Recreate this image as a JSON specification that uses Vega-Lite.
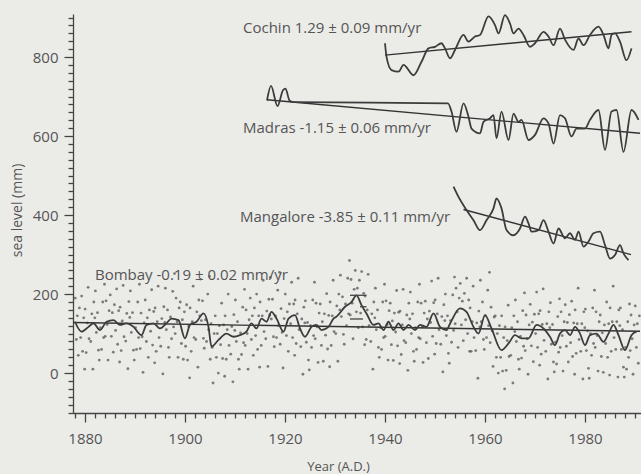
{
"$schema":"https://vega.github.io/schema/vega-lite/v6.json",
"width":568,"height":399,
"autosize":"none",
"padding":{"left":73,"top":14,"right":0,"bottom":61},
"background":"#ebebe8",
"config":{"view":{"stroke":null},"font":"Open Sans"},
"datasets":{
"dots":[
{"x":1878.05,"y":190},{"x":1878.28,"y":85},{"x":1878.47,"y":145},{"x":1878.66,"y":45},{"x":1878.88,"y":165},
{"x":1879.12,"y":90},{"x":1879.33,"y":195},{"x":1879.52,"y":55},{"x":1879.74,"y":140},{"x":1879.93,"y":10},
{"x":1880.02,"y":162},{"x":1880.24,"y":52},{"x":1880.45,"y":127},{"x":1880.63,"y":217},{"x":1880.81,"y":87},
{"x":1881.15,"y":80},{"x":1881.36,"y":150},{"x":1881.58,"y":10},{"x":1881.77,"y":180},{"x":1881.96,"y":140},
{"x":1882.08,"y":208},{"x":1882.27,"y":103},{"x":1882.5,"y":153},{"x":1882.69,"y":58},{"x":1882.85,"y":33},
{"x":1883.1,"y":115},{"x":1883.31,"y":60},{"x":1883.55,"y":180},{"x":1883.72,"y":90},{"x":1883.9,"y":225},
{"x":1884.04,"y":93},{"x":1884.21,"y":183},{"x":1884.43,"y":123},{"x":1884.61,"y":33},{"x":1884.83,"y":158},
{"x":1885.05,"y":198},{"x":1885.28,"y":93},{"x":1885.47,"y":153},{"x":1885.66,"y":53},{"x":1885.88,"y":173},
{"x":1886.12,"y":108},{"x":1886.33,"y":213},{"x":1886.52,"y":73},{"x":1886.74,"y":158},{"x":1886.93,"y":28},
{"x":1887.02,"y":167},{"x":1887.24,"y":57},{"x":1887.45,"y":132},{"x":1887.63,"y":222},{"x":1887.81,"y":92},
{"x":1888.15,"y":81},{"x":1888.36,"y":151},{"x":1888.58,"y":11},{"x":1888.77,"y":181},{"x":1888.96,"y":141},
{"x":1889.08,"y":208},{"x":1889.27,"y":103},{"x":1889.5,"y":153},{"x":1889.69,"y":58},{"x":1889.85,"y":33},
{"x":1890.1,"y":115},{"x":1890.31,"y":60},{"x":1890.55,"y":180},{"x":1890.72,"y":90},{"x":1890.9,"y":225},
{"x":1891.04,"y":62},{"x":1891.21,"y":152},{"x":1891.43,"y":92},{"x":1891.61,"y":2},{"x":1891.83,"y":127},
{"x":1892.05,"y":185},{"x":1892.28,"y":80},{"x":1892.47,"y":140},{"x":1892.66,"y":40},{"x":1892.88,"y":160},
{"x":1893.12,"y":106},{"x":1893.33,"y":211},{"x":1893.52,"y":71},{"x":1893.74,"y":156},{"x":1893.93,"y":26},
{"x":1894.02,"y":165},{"x":1894.24,"y":55},{"x":1894.45,"y":130},{"x":1894.63,"y":220},{"x":1894.81,"y":90},
{"x":1895.15,"y":68},{"x":1895.36,"y":138},{"x":1895.58,"y":-2},{"x":1895.77,"y":168},{"x":1895.96,"y":128},
{"x":1896.08,"y":215},{"x":1896.27,"y":110},{"x":1896.5,"y":160},{"x":1896.69,"y":65},{"x":1896.85,"y":40},
{"x":1897.1,"y":142},{"x":1897.31,"y":87},{"x":1897.55,"y":207},{"x":1897.72,"y":117},{"x":1897.9,"y":252},
{"x":1898.04,"y":100},{"x":1898.21,"y":190},{"x":1898.43,"y":130},{"x":1898.61,"y":40},{"x":1898.83,"y":165},
{"x":1899.05,"y":180},{"x":1899.28,"y":75},{"x":1899.47,"y":135},{"x":1899.66,"y":35},{"x":1899.88,"y":155},
{"x":1900.12,"y":68},{"x":1900.33,"y":173},{"x":1900.52,"y":33},{"x":1900.74,"y":118},{"x":1900.93,"y":-12},
{"x":1901.02,"y":165},{"x":1901.24,"y":55},{"x":1901.45,"y":130},{"x":1901.63,"y":220},{"x":1901.81,"y":90},
{"x":1902.15,"y":85},{"x":1902.36,"y":155},{"x":1902.58,"y":15},{"x":1902.77,"y":185},{"x":1902.96,"y":145},
{"x":1903.08,"y":238},{"x":1903.27,"y":133},{"x":1903.5,"y":183},{"x":1903.69,"y":88},{"x":1903.85,"y":63},
{"x":1904.1,"y":135},{"x":1904.31,"y":80},{"x":1904.55,"y":200},{"x":1904.72,"y":110},{"x":1904.9,"y":245},
{"x":1905.04,"y":35},{"x":1905.21,"y":125},{"x":1905.43,"y":65},{"x":1905.61,"y":-25},{"x":1905.83,"y":100},
{"x":1906.05,"y":145},{"x":1906.28,"y":40},{"x":1906.47,"y":100},{"x":1906.66,"y":0},{"x":1906.88,"y":120},
{"x":1907.12,"y":72},{"x":1907.33,"y":177},{"x":1907.52,"y":37},{"x":1907.74,"y":122},{"x":1907.93,"y":-8},
{"x":1908.02,"y":145},{"x":1908.24,"y":35},{"x":1908.45,"y":110},{"x":1908.63,"y":200},{"x":1908.81,"y":70},
{"x":1909.15,"y":48},{"x":1909.36,"y":118},{"x":1909.58,"y":-22},{"x":1909.77,"y":148},{"x":1909.96,"y":108},
{"x":1910.08,"y":185},{"x":1910.27,"y":80},{"x":1910.5,"y":130},{"x":1910.69,"y":35},{"x":1910.85,"y":10},
{"x":1911.1,"y":102},{"x":1911.31,"y":47},{"x":1911.55,"y":167},{"x":1911.72,"y":77},{"x":1911.9,"y":212},
{"x":1912.04,"y":70},{"x":1912.21,"y":160},{"x":1912.43,"y":100},{"x":1912.61,"y":10},{"x":1912.83,"y":135},
{"x":1913.05,"y":190},{"x":1913.28,"y":85},{"x":1913.47,"y":145},{"x":1913.66,"y":45},{"x":1913.88,"y":165},
{"x":1914.12,"y":95},{"x":1914.33,"y":200},{"x":1914.52,"y":60},{"x":1914.74,"y":145},{"x":1914.93,"y":15},
{"x":1915.02,"y":180},{"x":1915.24,"y":70},{"x":1915.45,"y":145},{"x":1915.63,"y":235},{"x":1915.81,"y":105},
{"x":1916.15,"y":87},{"x":1916.36,"y":157},{"x":1916.58,"y":17},{"x":1916.77,"y":187},{"x":1916.96,"y":147},
{"x":1917.08,"y":242},{"x":1917.27,"y":137},{"x":1917.5,"y":187},{"x":1917.69,"y":92},{"x":1917.85,"y":67},
{"x":1918.1,"y":145},{"x":1918.31,"y":90},{"x":1918.55,"y":210},{"x":1918.72,"y":120},{"x":1918.9,"y":255},
{"x":1919.04,"y":73},{"x":1919.21,"y":163},{"x":1919.43,"y":103},{"x":1919.61,"y":13},{"x":1919.83,"y":138},
{"x":1920.05,"y":200},{"x":1920.28,"y":95},{"x":1920.47,"y":155},{"x":1920.66,"y":55},{"x":1920.88,"y":175},
{"x":1921.12,"y":125},{"x":1921.33,"y":230},{"x":1921.52,"y":90},{"x":1921.74,"y":175},{"x":1921.93,"y":45},
{"x":1922.02,"y":185},{"x":1922.24,"y":75},{"x":1922.45,"y":150},{"x":1922.63,"y":240},{"x":1922.81,"y":110},
{"x":1923.15,"y":67},{"x":1923.36,"y":137},{"x":1923.58,"y":-3},{"x":1923.77,"y":167},{"x":1923.96,"y":127},
{"x":1924.08,"y":183},{"x":1924.27,"y":78},{"x":1924.5,"y":128},{"x":1924.69,"y":33},{"x":1924.85,"y":8},
{"x":1925.1,"y":120},{"x":1925.31,"y":65},{"x":1925.55,"y":185},{"x":1925.72,"y":95},{"x":1925.9,"y":230},
{"x":1926.04,"y":87},{"x":1926.21,"y":177},{"x":1926.43,"y":117},{"x":1926.61,"y":27},{"x":1926.83,"y":152},
{"x":1927.05,"y":175},{"x":1927.28,"y":70},{"x":1927.47,"y":130},{"x":1927.66,"y":30},{"x":1927.88,"y":150},
{"x":1928.12,"y":96},{"x":1928.33,"y":201},{"x":1928.52,"y":61},{"x":1928.74,"y":146},{"x":1928.93,"y":16},
{"x":1929.02,"y":180},{"x":1929.24,"y":70},{"x":1929.45,"y":145},{"x":1929.63,"y":235},{"x":1929.81,"y":105},
{"x":1930.15,"y":100},{"x":1930.36,"y":170},{"x":1930.58,"y":30},{"x":1930.77,"y":200},{"x":1930.96,"y":160},
{"x":1931.08,"y":248},{"x":1931.27,"y":143},{"x":1931.5,"y":193},{"x":1931.69,"y":98},{"x":1931.85,"y":73},
{"x":1932.1,"y":175},{"x":1932.31,"y":120},{"x":1932.55,"y":240},{"x":1932.72,"y":150},{"x":1932.9,"y":285},
{"x":1933.04,"y":147},{"x":1933.21,"y":237},{"x":1933.43,"y":177},{"x":1933.61,"y":87},{"x":1933.83,"y":212},
{"x":1934.05,"y":260},{"x":1934.28,"y":155},{"x":1934.47,"y":215},{"x":1934.66,"y":115},{"x":1934.88,"y":235},
{"x":1935.12,"y":152},{"x":1935.33,"y":257},{"x":1935.52,"y":117},{"x":1935.74,"y":202},{"x":1935.93,"y":72},
{"x":1936.02,"y":195},{"x":1936.24,"y":85},{"x":1936.45,"y":160},{"x":1936.63,"y":250},{"x":1936.81,"y":120},
{"x":1937.15,"y":80},{"x":1937.36,"y":150},{"x":1937.58,"y":10},{"x":1937.77,"y":180},{"x":1937.96,"y":140},
{"x":1938.08,"y":215},{"x":1938.27,"y":110},{"x":1938.5,"y":160},{"x":1938.69,"y":65},{"x":1938.85,"y":40},
{"x":1939.1,"y":115},{"x":1939.31,"y":60},{"x":1939.55,"y":180},{"x":1939.72,"y":90},{"x":1939.9,"y":225},
{"x":1940.04,"y":93},{"x":1940.21,"y":183},{"x":1940.43,"y":123},{"x":1940.61,"y":33},{"x":1940.83,"y":158},
{"x":1941.05,"y":177},{"x":1941.28,"y":72},{"x":1941.47,"y":132},{"x":1941.66,"y":32},{"x":1941.88,"y":152},
{"x":1942.12,"y":104},{"x":1942.33,"y":209},{"x":1942.52,"y":69},{"x":1942.74,"y":154},{"x":1942.93,"y":24},
{"x":1943.02,"y":157},{"x":1943.24,"y":47},{"x":1943.45,"y":122},{"x":1943.63,"y":212},{"x":1943.81,"y":82},
{"x":1944.15,"y":77},{"x":1944.36,"y":147},{"x":1944.58,"y":7},{"x":1944.77,"y":177},{"x":1944.96,"y":137},
{"x":1945.08,"y":205},{"x":1945.27,"y":100},{"x":1945.5,"y":150},{"x":1945.69,"y":55},{"x":1945.85,"y":30},
{"x":1946.1,"y":115},{"x":1946.31,"y":60},{"x":1946.55,"y":180},{"x":1946.72,"y":90},{"x":1946.9,"y":225},
{"x":1947.04,"y":87},{"x":1947.21,"y":177},{"x":1947.43,"y":117},{"x":1947.61,"y":27},{"x":1947.83,"y":152},
{"x":1948.05,"y":182},{"x":1948.28,"y":77},{"x":1948.47,"y":137},{"x":1948.66,"y":37},{"x":1948.88,"y":157},
{"x":1949.12,"y":128},{"x":1949.33,"y":233},{"x":1949.52,"y":93},{"x":1949.74,"y":178},{"x":1949.93,"y":48},
{"x":1950.02,"y":185},{"x":1950.24,"y":75},{"x":1950.45,"y":150},{"x":1950.63,"y":240},{"x":1950.81,"y":110},
{"x":1951.15,"y":73},{"x":1951.36,"y":143},{"x":1951.58,"y":3},{"x":1951.77,"y":173},{"x":1951.96,"y":133},
{"x":1952.08,"y":200},{"x":1952.27,"y":95},{"x":1952.5,"y":145},{"x":1952.69,"y":50},{"x":1952.85,"y":25},
{"x":1953.1,"y":133},{"x":1953.31,"y":78},{"x":1953.55,"y":198},{"x":1953.72,"y":108},{"x":1953.9,"y":243},
{"x":1954.04,"y":125},{"x":1954.21,"y":215},{"x":1954.43,"y":155},{"x":1954.61,"y":65},{"x":1954.83,"y":190},
{"x":1955.05,"y":227},{"x":1955.28,"y":122},{"x":1955.47,"y":182},{"x":1955.66,"y":82},{"x":1955.88,"y":202},
{"x":1956.12,"y":135},{"x":1956.33,"y":240},{"x":1956.52,"y":100},{"x":1956.74,"y":185},{"x":1956.93,"y":55},
{"x":1957.02,"y":165},{"x":1957.24,"y":55},{"x":1957.45,"y":130},{"x":1957.63,"y":220},{"x":1957.81,"y":90},
{"x":1958.15,"y":57},{"x":1958.36,"y":127},{"x":1958.58,"y":-13},{"x":1958.77,"y":157},{"x":1958.96,"y":117},
{"x":1959.08,"y":235},{"x":1959.27,"y":130},{"x":1959.5,"y":180},{"x":1959.69,"y":85},{"x":1959.85,"y":60},
{"x":1960.1,"y":145},{"x":1960.31,"y":90},{"x":1960.55,"y":210},{"x":1960.72,"y":120},{"x":1960.9,"y":255},
{"x":1961.04,"y":77},{"x":1961.21,"y":167},{"x":1961.43,"y":107},{"x":1961.61,"y":17},{"x":1961.83,"y":142},
{"x":1962.05,"y":145},{"x":1962.28,"y":40},{"x":1962.47,"y":100},{"x":1962.66,"y":0},{"x":1962.88,"y":120},
{"x":1963.12,"y":40},{"x":1963.33,"y":145},{"x":1963.52,"y":5},{"x":1963.74,"y":90},{"x":1963.93,"y":-40},
{"x":1964.02,"y":117},{"x":1964.24,"y":7},{"x":1964.45,"y":82},{"x":1964.63,"y":172},{"x":1964.81,"y":42},
{"x":1965.15,"y":45},{"x":1965.36,"y":115},{"x":1965.58,"y":-25},{"x":1965.77,"y":145},{"x":1965.96,"y":105},
{"x":1966.08,"y":185},{"x":1966.27,"y":80},{"x":1966.5,"y":130},{"x":1966.69,"y":35},{"x":1966.85,"y":10},
{"x":1967.1,"y":93},{"x":1967.31,"y":38},{"x":1967.55,"y":158},{"x":1967.72,"y":68},{"x":1967.9,"y":203},
{"x":1968.04,"y":57},{"x":1968.21,"y":147},{"x":1968.43,"y":87},{"x":1968.61,"y":-3},{"x":1968.83,"y":122},
{"x":1969.05,"y":174},{"x":1969.28,"y":69},{"x":1969.47,"y":129},{"x":1969.66,"y":29},{"x":1969.88,"y":149},
{"x":1970.12,"y":100},{"x":1970.33,"y":205},{"x":1970.52,"y":65},{"x":1970.74,"y":150},{"x":1970.93,"y":20},
{"x":1971.02,"y":158},{"x":1971.24,"y":48},{"x":1971.45,"y":123},{"x":1971.63,"y":213},{"x":1971.81,"y":83},
{"x":1972.15,"y":55},{"x":1972.36,"y":125},{"x":1972.58,"y":-15},{"x":1972.77,"y":155},{"x":1972.96,"y":115},
{"x":1973.08,"y":178},{"x":1973.27,"y":73},{"x":1973.5,"y":123},{"x":1973.69,"y":28},{"x":1973.85,"y":3},
{"x":1974.1,"y":78},{"x":1974.31,"y":23},{"x":1974.55,"y":143},{"x":1974.72,"y":53},{"x":1974.9,"y":188},
{"x":1975.04,"y":65},{"x":1975.21,"y":155},{"x":1975.43,"y":95},{"x":1975.61,"y":5},{"x":1975.83,"y":130},
{"x":1976.05,"y":173},{"x":1976.28,"y":68},{"x":1976.47,"y":128},{"x":1976.66,"y":28},{"x":1976.88,"y":148},
{"x":1977.12,"y":77},{"x":1977.33,"y":182},{"x":1977.52,"y":42},{"x":1977.74,"y":127},{"x":1977.93,"y":-3},
{"x":1978.02,"y":160},{"x":1978.24,"y":50},{"x":1978.45,"y":125},{"x":1978.63,"y":215},{"x":1978.81,"y":85},
{"x":1979.15,"y":55},{"x":1979.36,"y":125},{"x":1979.58,"y":-15},{"x":1979.77,"y":155},{"x":1979.96,"y":115},
{"x":1980.08,"y":162},{"x":1980.27,"y":57},{"x":1980.5,"y":107},{"x":1980.69,"y":12},{"x":1980.85,"y":-13},
{"x":1981.1,"y":100},{"x":1981.31,"y":45},{"x":1981.55,"y":165},{"x":1981.72,"y":75},{"x":1981.9,"y":210},
{"x":1982.04,"y":65},{"x":1982.21,"y":155},{"x":1982.43,"y":95},{"x":1982.61,"y":5},{"x":1982.83,"y":130},
{"x":1983.05,"y":147},{"x":1983.28,"y":42},{"x":1983.47,"y":102},{"x":1983.66,"y":2},{"x":1983.88,"y":122},
{"x":1984.12,"y":75},{"x":1984.33,"y":180},{"x":1984.52,"y":40},{"x":1984.74,"y":125},{"x":1984.93,"y":-5},
{"x":1985.02,"y":165},{"x":1985.24,"y":55},{"x":1985.45,"y":130},{"x":1985.63,"y":220},{"x":1985.81,"y":90},
{"x":1986.15,"y":60},{"x":1986.36,"y":130},{"x":1986.58,"y":-10},{"x":1986.77,"y":160},{"x":1986.96,"y":120},
{"x":1987.08,"y":165},{"x":1987.27,"y":60},{"x":1987.5,"y":110},{"x":1987.69,"y":15},{"x":1987.85,"y":-10},
{"x":1988.1,"y":65},{"x":1988.31,"y":10},{"x":1988.55,"y":130},{"x":1988.72,"y":40},{"x":1988.9,"y":175},
{"x":1989.04,"y":57},{"x":1989.21,"y":147},{"x":1989.43,"y":87},{"x":1989.61,"y":-3},{"x":1989.83,"y":122},
{"x":1990.05,"y":170},{"x":1990.28,"y":65},{"x":1990.47,"y":125},{"x":1990.66,"y":25},{"x":1990.88,"y":145}
],
"smooth":[
{"s":"Bombay","x":1878,"y":130},{"s":"Bombay","x":1879.3,"y":105},{"s":"Bombay","x":1880.7,"y":117},{"s":"Bombay","x":1881.7,"y":126},{"s":"Bombay","x":1883,"y":109},{"s":"Bombay","x":1884.3,"y":130},{"s":"Bombay","x":1885.7,"y":134},{"s":"Bombay","x":1887,"y":122},{"s":"Bombay","x":1888.3,"y":126},{"s":"Bombay","x":1889.7,"y":117},{"s":"Bombay","x":1891.3,"y":96},{"s":"Bombay","x":1892.3,"y":122},{"s":"Bombay","x":1893.7,"y":126},{"s":"Bombay","x":1895,"y":113},{"s":"Bombay","x":1896.3,"y":126},{"s":"Bombay","x":1897.3,"y":138},{"s":"Bombay","x":1898.7,"y":134},{"s":"Bombay","x":1900,"y":88},{"s":"Bombay","x":1901,"y":122},{"s":"Bombay","x":1902.3,"y":130},{"s":"Bombay","x":1903.7,"y":151},{"s":"Bombay","x":1904.7,"y":117},{"s":"Bombay","x":1905.3,"y":67},{"s":"Bombay","x":1906.7,"y":84},{"s":"Bombay","x":1908.3,"y":100},{"s":"Bombay","x":1909.7,"y":92},{"s":"Bombay","x":1911,"y":96},{"s":"Bombay","x":1912.3,"y":105},{"s":"Bombay","x":1913.3,"y":126},{"s":"Bombay","x":1914.3,"y":113},{"s":"Bombay","x":1915.3,"y":138},{"s":"Bombay","x":1916.3,"y":130},{"s":"Bombay","x":1917.3,"y":155},{"s":"Bombay","x":1918.3,"y":138},{"s":"Bombay","x":1919.7,"y":105},{"s":"Bombay","x":1920.7,"y":138},{"s":"Bombay","x":1922,"y":147},{"s":"Bombay","x":1923,"y":113},{"s":"Bombay","x":1924,"y":92},{"s":"Bombay","x":1925.3,"y":117},{"s":"Bombay","x":1926.3,"y":122},{"s":"Bombay","x":1927.3,"y":109},{"s":"Bombay","x":1928.7,"y":117},{"s":"Bombay","x":1929.7,"y":138},{"s":"Bombay","x":1930.3,"y":143},{"s":"Bombay","x":1932,"y":168},{"s":"Bombay","x":1933.3,"y":180},{"s":"Bombay","x":1934.3,"y":197},{"s":"Bombay","x":1935.3,"y":172},{"s":"Bombay","x":1936.3,"y":151},{"s":"Bombay","x":1937.7,"y":122},{"s":"Bombay","x":1938.7,"y":126},{"s":"Bombay","x":1939.7,"y":109},{"s":"Bombay","x":1940.7,"y":130},{"s":"Bombay","x":1941.7,"y":109},{"s":"Bombay","x":1942.7,"y":126},{"s":"Bombay","x":1943.7,"y":109},{"s":"Bombay","x":1944.7,"y":122},{"s":"Bombay","x":1946,"y":109},{"s":"Bombay","x":1947,"y":122},{"s":"Bombay","x":1948.3,"y":117},{"s":"Bombay","x":1949.7,"y":151},{"s":"Bombay","x":1951,"y":117},{"s":"Bombay","x":1952.3,"y":109},{"s":"Bombay","x":1953,"y":125},{"s":"Bombay","x":1955,"y":164},{"s":"Bombay","x":1956.3,"y":155},{"s":"Bombay","x":1957.7,"y":117},{"s":"Bombay","x":1958.7,"y":100},{"s":"Bombay","x":1960,"y":147},{"s":"Bombay","x":1961.3,"y":113},{"s":"Bombay","x":1963.3,"y":58},{"s":"Bombay","x":1964.7,"y":75},{"s":"Bombay","x":1966,"y":96},{"s":"Bombay","x":1967.3,"y":88},{"s":"Bombay","x":1968.7,"y":88},{"s":"Bombay","x":1970.3,"y":122},{"s":"Bombay","x":1971.7,"y":113},{"s":"Bombay","x":1973,"y":92},{"s":"Bombay","x":1974,"y":71},{"s":"Bombay","x":1975,"y":100},{"s":"Bombay","x":1976,"y":109},{"s":"Bombay","x":1977,"y":96},{"s":"Bombay","x":1978,"y":117},{"s":"Bombay","x":1979,"y":100},{"s":"Bombay","x":1980,"y":71},{"s":"Bombay","x":1981,"y":96},{"s":"Bombay","x":1982.3,"y":100},{"s":"Bombay","x":1983.7,"y":79},{"s":"Bombay","x":1984.7,"y":100},{"s":"Bombay","x":1985.7,"y":122},{"s":"Bombay","x":1986.7,"y":96},{"s":"Bombay","x":1988,"y":58},{"s":"Bombay","x":1989.3,"y":96},{"s":"Bombay","x":1990.3,"y":105},
{"s":"Madras","x":1916.4,"y":690},{"s":"Madras","x":1917.2,"y":727},{"s":"Madras","x":1918.5,"y":676},{"s":"Madras","x":1919.6,"y":716},{"s":"Madras","x":1920.1,"y":720},{"s":"Madras","x":1920.9,"y":690},{"s":"Madras","x":1921.6,"y":686},{"s":"Madras","x":1952.6,"y":683},{"s":"Madras","x":1953.3,"y":662},{"s":"Madras","x":1954.3,"y":611},{"s":"Madras","x":1955.7,"y":683},{"s":"Madras","x":1956.7,"y":649},{"s":"Madras","x":1957.3,"y":619},{"s":"Madras","x":1959,"y":607},{"s":"Madras","x":1959.7,"y":636},{"s":"Madras","x":1961,"y":645},{"s":"Madras","x":1961.7,"y":653},{"s":"Madras","x":1962.3,"y":594},{"s":"Madras","x":1963.3,"y":662},{"s":"Madras","x":1964.7,"y":590},{"s":"Madras","x":1965.7,"y":657},{"s":"Madras","x":1966.7,"y":636},{"s":"Madras","x":1967.3,"y":641},{"s":"Madras","x":1968.7,"y":590},{"s":"Madras","x":1970,"y":603},{"s":"Madras","x":1971.7,"y":645},{"s":"Madras","x":1972.7,"y":632},{"s":"Madras","x":1973.7,"y":581},{"s":"Madras","x":1975,"y":653},{"s":"Madras","x":1976,"y":645},{"s":"Madras","x":1977.3,"y":599},{"s":"Madras","x":1978.3,"y":619},{"s":"Madras","x":1980,"y":619},{"s":"Madras","x":1981,"y":641},{"s":"Madras","x":1982.7,"y":666},{"s":"Madras","x":1984,"y":565},{"s":"Madras","x":1985.3,"y":662},{"s":"Madras","x":1986.3,"y":666},{"s":"Madras","x":1987.7,"y":560},{"s":"Madras","x":1989.3,"y":666},{"s":"Madras","x":1990.7,"y":641},
{"s":"Cochin","x":1940,"y":835},{"s":"Cochin","x":1940.3,"y":801},{"s":"Cochin","x":1941.3,"y":767},{"s":"Cochin","x":1942.7,"y":763},{"s":"Cochin","x":1943.7,"y":780},{"s":"Cochin","x":1945.7,"y":754},{"s":"Cochin","x":1947.3,"y":788},{"s":"Cochin","x":1948.7,"y":822},{"s":"Cochin","x":1950,"y":826},{"s":"Cochin","x":1951.3,"y":835},{"s":"Cochin","x":1952,"y":822},{"s":"Cochin","x":1953,"y":797},{"s":"Cochin","x":1954,"y":818},{"s":"Cochin","x":1955.7,"y":856},{"s":"Cochin","x":1956.7,"y":839},{"s":"Cochin","x":1958,"y":852},{"s":"Cochin","x":1959,"y":856},{"s":"Cochin","x":1960.7,"y":903},{"s":"Cochin","x":1962,"y":881},{"s":"Cochin","x":1962.7,"y":860},{"s":"Cochin","x":1964,"y":906},{"s":"Cochin","x":1965,"y":885},{"s":"Cochin","x":1965.7,"y":860},{"s":"Cochin","x":1966.7,"y":872},{"s":"Cochin","x":1967.7,"y":856},{"s":"Cochin","x":1969,"y":826},{"s":"Cochin","x":1970,"y":835},{"s":"Cochin","x":1971.7,"y":864},{"s":"Cochin","x":1972.7,"y":852},{"s":"Cochin","x":1973.7,"y":830},{"s":"Cochin","x":1975,"y":872},{"s":"Cochin","x":1976,"y":844},{"s":"Cochin","x":1977.7,"y":818},{"s":"Cochin","x":1978.7,"y":847},{"s":"Cochin","x":1979.7,"y":830},{"s":"Cochin","x":1981,"y":856},{"s":"Cochin","x":1982.7,"y":877},{"s":"Cochin","x":1983.7,"y":856},{"s":"Cochin","x":1984.7,"y":822},{"s":"Cochin","x":1985.3,"y":856},{"s":"Cochin","x":1986,"y":860},{"s":"Cochin","x":1987,"y":839},{"s":"Cochin","x":1988.3,"y":792},{"s":"Cochin","x":1989.3,"y":822},
{"s":"Mangalore","x":1953.7,"y":472},{"s":"Mangalore","x":1954.7,"y":446},{"s":"Mangalore","x":1956.3,"y":413},{"s":"Mangalore","x":1957.7,"y":387},{"s":"Mangalore","x":1959,"y":362},{"s":"Mangalore","x":1960.3,"y":387},{"s":"Mangalore","x":1961.7,"y":417},{"s":"Mangalore","x":1962.3,"y":442},{"s":"Mangalore","x":1963.3,"y":417},{"s":"Mangalore","x":1964.3,"y":362},{"s":"Mangalore","x":1965.7,"y":349},{"s":"Mangalore","x":1967,"y":366},{"s":"Mangalore","x":1968,"y":396},{"s":"Mangalore","x":1968.7,"y":379},{"s":"Mangalore","x":1969.3,"y":358},{"s":"Mangalore","x":1970.7,"y":362},{"s":"Mangalore","x":1971.7,"y":387},{"s":"Mangalore","x":1972.7,"y":358},{"s":"Mangalore","x":1973.7,"y":328},{"s":"Mangalore","x":1974.7,"y":366},{"s":"Mangalore","x":1976,"y":341},{"s":"Mangalore","x":1977,"y":354},{"s":"Mangalore","x":1978,"y":337},{"s":"Mangalore","x":1978.7,"y":358},{"s":"Mangalore","x":1979.7,"y":320},{"s":"Mangalore","x":1980.7,"y":333},{"s":"Mangalore","x":1981.7,"y":354},{"s":"Mangalore","x":1983,"y":358},{"s":"Mangalore","x":1984,"y":324},{"s":"Mangalore","x":1985,"y":290},{"s":"Mangalore","x":1986,"y":299},{"s":"Mangalore","x":1987,"y":324},{"s":"Mangalore","x":1987.7,"y":303},{"s":"Mangalore","x":1988.7,"y":286}
],
"trend":[
{"s":"Bombay","x":1877.6,"y":128},{"s":"Bombay","x":1991,"y":106},
{"s":"Madras","x":1916.4,"y":692},{"s":"Madras","x":1991,"y":607},
{"s":"Cochin","x":1940,"y":805},{"s":"Cochin","x":1989.3,"y":864},
{"s":"Mangalore","x":1955.7,"y":414},{"s":"Mangalore","x":1989.2,"y":300}
],
"bars":[
{"x":1933,"x2":1936.3,"y":197},{"x":1935,"x2":1936.3,"y":168},{"x":1933,"x2":1935.6,"y":137}
],
"labels":[
{"x":1911.6,"y":873,"t":"Cochin 1.29 ± 0.09 mm/yr"},
{"x":1911.6,"y":620,"t":"Madras -1.15 ± 0.06 mm/yr"},
{"x":1911,"y":395,"t":"Mangalore -3.85 ± 0.11 mm/yr"},
{"x":1882,"y":248,"t":"Bombay -0.19 ± 0.02 mm/yr"}
]
},
"encoding":{
"x":{"field":"x","type":"quantitative","scale":{"domain":[1877.6,1991.2],"nice":false,"zero":false},
 "axis":{"title":"Year (A.D.)","values":[1878,1880,1882,1884,1886,1888,1890,1892,1894,1896,1898,1900,1902,1904,1906,1908,1910,1912,1914,1916,1918,1920,1922,1924,1926,1928,1930,1932,1934,1936,1938,1940,1942,1944,1946,1948,1950,1952,1954,1956,1958,1960,1962,1964,1966,1968,1970,1972,1974,1976,1978,1980,1982,1984,1986,1988,1990],
  "format":"d","labelExpr":"datum.value % 20 == 0 ? datum.label : ''",
  "tickSize":{"condition":{"test":"datum.value % 20 == 0","value":9},"value":5},
  "grid":false,"domainColor":"#444","tickColor":"#444","tickWidth":1.3,"domainWidth":1.3,
  "labelColor":"#555","labelFontSize":15,"labelFont":"Open Sans","labelPadding":9,"labelFlush":false,
  "titleFont":"Open Sans","titleFontSize":13,"titleFontWeight":"normal","titleColor":"#555",
  "titleX":265,"titleY":53,"titleBaseline":"middle","titleAnchor":null}},
"y":{"field":"y","type":"quantitative","scale":{"domain":[-101,909],"nice":false,"zero":false},
 "axis":{"title":"sea level (mm)","values":[-100,-80,-60,-40,-20,0,20,40,60,80,100,120,140,160,180,200,220,240,260,280,300,320,340,360,380,400,420,440,460,480,500,520,540,560,580,600,620,640,660,680,700,720,740,760,780,800,820,840,860,880,900],
  "labelExpr":"datum.value % 200 == 0 ? datum.label : ''",
  "tickSize":{"condition":{"test":"datum.value % 200 == 0","value":9},"value":5},
  "grid":false,"domainColor":"#444","tickColor":"#444","tickWidth":1.3,"domainWidth":1.3,
  "labelColor":"#555","labelFontSize":15,"labelFont":"Open Sans","labelPadding":6,"labelFlush":false,
  "titleFont":"Open Sans","titleFontSize":14,"titleFontWeight":"normal","titleColor":"#555",
  "titleX":-56,"titleY":196,"titleBaseline":"middle","titleAngle":-90}}
},
"layer":[
{"data":{"name":"dots"},"mark":{"type":"point","filled":true,"size":8,"color":"#555","opacity":0.75}},
{"data":{"name":"trend"},"mark":{"type":"line","color":"#333","strokeWidth":1.4},"encoding":{"detail":{"field":"s"}}},
{"data":{"name":"smooth"},"mark":{"type":"line","color":"#3c3c3c","strokeWidth":1.8,"interpolate":"monotone"},"encoding":{"detail":{"field":"s"}}},
{"data":{"name":"bars"},"mark":{"type":"rule","color":"#444","strokeWidth":1.3},"encoding":{"x2":{"field":"x2"}}},
{"data":{"name":"labels"},"mark":{"type":"text","align":"left","baseline":"middle","font":"Open Sans","fontSize":15,"color":"#555"},"encoding":{"text":{"field":"t"}}}
]
}
